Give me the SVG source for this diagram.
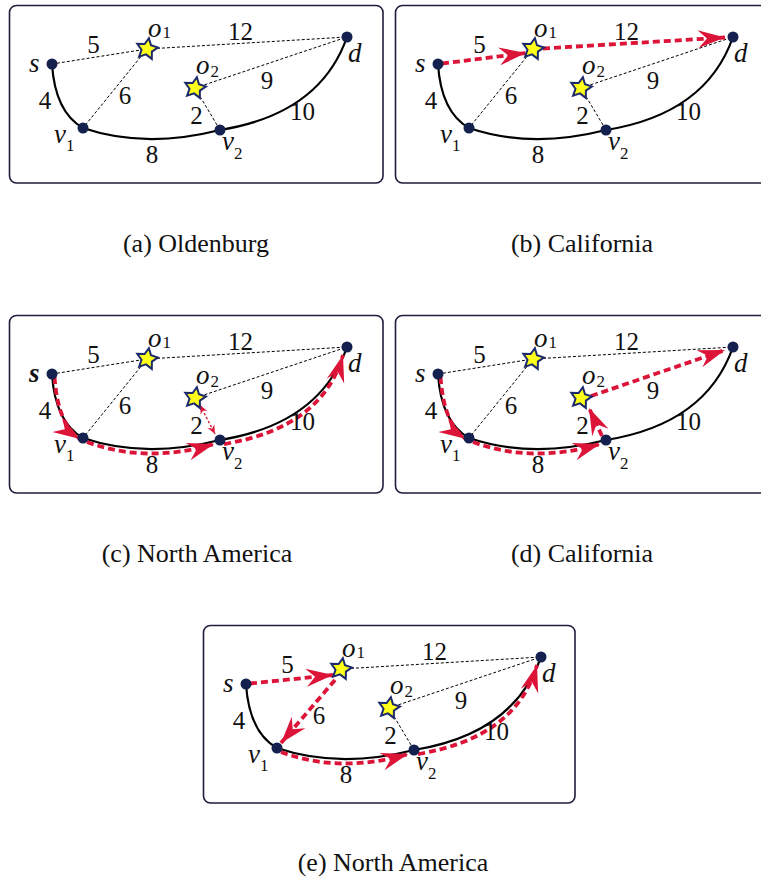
<svg xmlns="http://www.w3.org/2000/svg" width="761" height="879" viewBox="0 0 761 879">
<style>
.frame{fill:#fff;stroke:#231a3d;stroke-width:1.6}
.road{fill:none;stroke:#000;stroke-width:2.2}
.link{fill:none;stroke:#000;stroke-width:1;stroke-dasharray:3,2}
.red{fill:none;stroke:#dc1438;stroke-width:3.8;stroke-dasharray:7,4;marker-end:url(#ah)}
.redthin{fill:none;stroke:#dc1438;stroke-width:1.4;stroke-dasharray:2.5,2;marker-end:url(#ahs);marker-start:url(#ahs)}
.node circle{fill:#14204d}
.star{fill:#ffff1a;stroke:#1c2a6b;stroke-width:2;stroke-linejoin:miter}
text{font-family:'Liberation Serif','Times New Roman',serif;fill:#111}
.m{font-style:italic;font-size:27px}
.sub{font-style:normal;font-size:17px}
.w{font-size:25px;text-anchor:middle}
.cap{font-size:26px;text-anchor:middle}
</style>
<defs>
<polygon id="star" class="star" points="1.9,-10.8 4,-3.8 10.9,-1.5 4.9,2.6 4.8,9.9 -1,5.4 -7.9,7.6 -5.5,0.8 -9.7,-5.2 -2.4,-4.9"/>
<marker id="ah" viewBox="-30 -11 32 22" refX="0" refY="0" markerWidth="32" markerHeight="22" markerUnits="userSpaceOnUse" orient="auto"><path d="M0,0 L-27,-9 L-18,0 L-27,9 Z" fill="#dc1438"/></marker>
<marker id="ahs" viewBox="-10 -5 11 10" refX="0" refY="0" markerWidth="11" markerHeight="10" markerUnits="userSpaceOnUse" orient="auto-start-reverse"><path d="M0,0 L-9,-3.8 L-6,0 L-9,3.8 Z" fill="#dc1438"/></marker>
</defs>

<!-- Panel (a) -->
<g id="panel-a">
<rect class="frame" x="9.5" y="5.5" width="373.5" height="177.5" rx="7"/>
<g id="a-connectors">
<path class="road" d="M52,64 Q55,112 83,128"/>
<path class="road" d="M83,128 Q145,149 220,130"/>
<path class="road" d="M220,130 Q320,114 347,37"/>
<line class="link" x1="52" y1="64" x2="147" y2="49"/>
<line class="link" x1="147" y1="49" x2="347" y2="37"/>
<line class="link" x1="147" y1="49" x2="83" y2="128"/>
<line class="link" x1="195" y1="88" x2="347" y2="37"/>
<line class="link" x1="195" y1="88" x2="220" y2="130"/>
<text class="w" x="93.5" y="53">5</text>
<text class="w" x="240.5" y="40">12</text>
<text class="w" x="125" y="104">6</text>
<text class="w" x="45" y="109">4</text>
<text class="w" x="267" y="89">9</text>
<text class="w" x="196.5" y="124">2</text>
<text class="w" x="302.5" y="120">10</text>
<text class="w" x="152" y="163">8</text>
</g>
<g id="a-s" class="node"><circle cx="52" cy="64" r="5.5"/><text class="m" x="29" y="72">s</text></g>
<g id="a-o1"><use href="#star" x="147" y="49"/><text class="m" x="148" y="37">o<tspan class="sub" dx="1" dy="1">1</tspan></text></g>
<g id="a-o2"><use href="#star" x="195" y="88"/><text class="m" x="196" y="74">o<tspan class="sub" dx="1" dy="3">2</tspan></text></g>
<g id="a-d" class="node"><circle cx="347" cy="37" r="5.5"/><text class="m" x="348" y="62">d</text></g>
<g id="a-v1" class="node"><circle cx="83" cy="128" r="5.5"/><text class="m" x="54" y="143">v<tspan class="sub" dx="0" dy="8">1</tspan></text></g>
<g id="a-v2" class="node"><circle cx="220" cy="130" r="5.5"/><text class="m" x="222" y="150">v<tspan class="sub" dx="0" dy="9">2</tspan></text></g>
</g>

<!-- Panel (b) -->
<g id="panel-b" transform="translate(386,0)">
<rect class="frame" x="9.5" y="5.5" width="373.5" height="177.5" rx="7"/>
<g id="b-connectors">
<path class="road" d="M52,64 Q55,112 83,128"/>
<path class="road" d="M83,128 Q145,149 220,130"/>
<path class="road" d="M220,130 Q320,114 347,37"/>
<line class="link" x1="147" y1="49" x2="83" y2="128"/>
<line class="link" x1="195" y1="88" x2="347" y2="37"/>
<line class="link" x1="195" y1="88" x2="220" y2="130"/>
<path class="red" d="M56,63.5 L140,53"/>
<path class="red" d="M157,48.5 L339,37.5"/>
<text class="w" x="93.5" y="53">5</text>
<text class="w" x="240.5" y="40">12</text>
<text class="w" x="125" y="104">6</text>
<text class="w" x="45" y="109">4</text>
<text class="w" x="267" y="89">9</text>
<text class="w" x="196.5" y="124">2</text>
<text class="w" x="302.5" y="120">10</text>
<text class="w" x="152" y="163">8</text>
</g>
<g id="b-s" class="node"><circle cx="52" cy="64" r="5.5"/><text class="m" x="29" y="72">s</text></g>
<g id="b-o1"><use href="#star" x="147" y="49"/><text class="m" x="148" y="37">o<tspan class="sub" dx="1" dy="1">1</tspan></text></g>
<g id="b-o2"><use href="#star" x="195" y="88"/><text class="m" x="196" y="74">o<tspan class="sub" dx="1" dy="3">2</tspan></text></g>
<g id="b-d" class="node"><circle cx="347" cy="37" r="5.5"/><text class="m" x="348" y="62">d</text></g>
<g id="b-v1" class="node"><circle cx="83" cy="128" r="5.5"/><text class="m" x="54" y="143">v<tspan class="sub" dx="0" dy="8">1</tspan></text></g>
<g id="b-v2" class="node"><circle cx="220" cy="130" r="5.5"/><text class="m" x="222" y="150">v<tspan class="sub" dx="0" dy="9">2</tspan></text></g>
</g>

<!-- Panel (c) -->
<g id="panel-c" transform="translate(0,310)">
<rect class="frame" x="9.5" y="5.5" width="373.5" height="177.5" rx="7"/>
<g id="c-connectors">
<path class="road" d="M52,64 Q55,112 83,128"/>
<path class="road" d="M83,128 Q145,149 220,130"/>
<path class="road" d="M220,130 Q320,114 347,37"/>
<line class="link" x1="52" y1="64" x2="147" y2="49"/>
<line class="link" x1="147" y1="49" x2="347" y2="37"/>
<line class="link" x1="147" y1="49" x2="83" y2="128"/>
<line class="link" x1="195" y1="88" x2="347" y2="37"/>
<path class="red" d="M54.5,67 Q58,115 80,129"/>
<path class="red" d="M87,132 Q146,154 214,134"/>
<path class="red" d="M224,134 Q322,118 343,45"/>
<path class="redthin" d="M200,95 L215,124"/>
<text class="w" x="93.5" y="53">5</text>
<text class="w" x="240.5" y="40">12</text>
<text class="w" x="125" y="104">6</text>
<text class="w" x="45" y="109">4</text>
<text class="w" x="267" y="89">9</text>
<text class="w" x="196.5" y="124">2</text>
<text class="w" x="302.5" y="120">10</text>
<text class="w" x="152" y="163">8</text>
</g>
<g id="c-s" class="node"><circle cx="52" cy="64" r="5.5"/><text class="m" x="29" y="72" font-weight="bold">s</text></g>
<g id="c-o1"><use href="#star" x="147" y="49"/><text class="m" x="148" y="37">o<tspan class="sub" dx="1" dy="1">1</tspan></text></g>
<g id="c-o2"><use href="#star" x="195" y="88"/><text class="m" x="196" y="74">o<tspan class="sub" dx="1" dy="3">2</tspan></text></g>
<g id="c-d" class="node"><circle cx="347" cy="37" r="5.5"/><text class="m" x="348" y="62">d</text></g>
<g id="c-v1" class="node"><circle cx="83" cy="128" r="5.5"/><text class="m" x="54" y="143">v<tspan class="sub" dx="0" dy="8">1</tspan></text></g>
<g id="c-v2" class="node"><circle cx="220" cy="130" r="5.5"/><text class="m" x="222" y="150">v<tspan class="sub" dx="0" dy="9">2</tspan></text></g>
</g>

<!-- Panel (d) -->
<g id="panel-d" transform="translate(386,310)">
<rect class="frame" x="9.5" y="5.5" width="373.5" height="177.5" rx="7"/>
<g id="d-connectors">
<path class="road" d="M52,64 Q55,112 83,128"/>
<path class="road" d="M83,128 Q145,149 220,130"/>
<path class="road" d="M220,130 Q320,114 347,37"/>
<line class="link" x1="52" y1="64" x2="147" y2="49"/>
<line class="link" x1="147" y1="49" x2="347" y2="37"/>
<line class="link" x1="147" y1="49" x2="83" y2="128"/>
<path class="red" d="M54.5,67 Q58,115 80,129"/>
<path class="red" d="M87,132 Q146,154 214,134"/>
<path class="red" d="M216,126 L203,98"/>
<path class="red" d="M205,86 L339,40"/>
<text class="w" x="93.5" y="53">5</text>
<text class="w" x="240.5" y="40">12</text>
<text class="w" x="125" y="104">6</text>
<text class="w" x="45" y="109">4</text>
<text class="w" x="267" y="89">9</text>
<text class="w" x="196.5" y="124">2</text>
<text class="w" x="302.5" y="120">10</text>
<text class="w" x="152" y="163">8</text>
</g>
<g id="d-s" class="node"><circle cx="52" cy="64" r="5.5"/><text class="m" x="29" y="72">s</text></g>
<g id="d-o1"><use href="#star" x="147" y="49"/><text class="m" x="148" y="37">o<tspan class="sub" dx="1" dy="1">1</tspan></text></g>
<g id="d-o2"><use href="#star" x="195" y="88"/><text class="m" x="196" y="74">o<tspan class="sub" dx="1" dy="3">2</tspan></text></g>
<g id="d-d" class="node"><circle cx="347" cy="37" r="5.5"/><text class="m" x="348" y="62">d</text></g>
<g id="d-v1" class="node"><circle cx="83" cy="128" r="5.5"/><text class="m" x="54" y="143">v<tspan class="sub" dx="0" dy="8">1</tspan></text></g>
<g id="d-v2" class="node"><circle cx="220" cy="130" r="5.5"/><text class="m" x="222" y="150">v<tspan class="sub" dx="0" dy="9">2</tspan></text></g>
</g>

<!-- Panel (e) -->
<g id="panel-e" transform="translate(194,620)">
<rect class="frame" x="9.5" y="5.5" width="371.5" height="177.5" rx="7"/>
<g id="e-connectors">
<path class="road" d="M52,64 Q55,112 83,128"/>
<path class="road" d="M83,128 Q145,149 220,130"/>
<path class="road" d="M220,130 Q320,114 347,37"/>
<line class="link" x1="147" y1="49" x2="347" y2="37"/>
<line class="link" x1="195" y1="88" x2="347" y2="37"/>
<line class="link" x1="195" y1="88" x2="220" y2="130"/>
<path class="red" d="M56,63.5 L139,55"/>
<path class="red" d="M141,60 L87,123"/>
<path class="red" d="M87,132 Q146,154 214,134"/>
<path class="red" d="M224,134 Q322,118 343,45"/>
<text class="w" x="93.5" y="53">5</text>
<text class="w" x="240.5" y="40">12</text>
<text class="w" x="125" y="104">6</text>
<text class="w" x="45" y="109">4</text>
<text class="w" x="267" y="89">9</text>
<text class="w" x="196.5" y="124">2</text>
<text class="w" x="302.5" y="120">10</text>
<text class="w" x="152" y="163">8</text>
</g>
<g id="e-s" class="node"><circle cx="52" cy="64" r="5.5"/><text class="m" x="29" y="72">s</text></g>
<g id="e-o1"><use href="#star" x="147" y="49"/><text class="m" x="148" y="37">o<tspan class="sub" dx="1" dy="1">1</tspan></text></g>
<g id="e-o2"><use href="#star" x="195" y="88"/><text class="m" x="196" y="74">o<tspan class="sub" dx="1" dy="3">2</tspan></text></g>
<g id="e-d" class="node"><circle cx="347" cy="37" r="5.5"/><text class="m" x="348" y="62">d</text></g>
<g id="e-v1" class="node"><circle cx="83" cy="128" r="5.5"/><text class="m" x="54" y="143">v<tspan class="sub" dx="0" dy="8">1</tspan></text></g>
<g id="e-v2" class="node"><circle cx="220" cy="130" r="5.5"/><text class="m" x="222" y="150">v<tspan class="sub" dx="0" dy="9">2</tspan></text></g>
</g>

<g id="captions">
<text class="cap" x="196" y="252">(a) Oldenburg</text>
<text class="cap" x="582" y="252">(b) California</text>
<text class="cap" x="197" y="562">(c) North America</text>
<text class="cap" x="582" y="562">(d) California</text>
<text class="cap" x="393" y="871">(e) North America</text>
</g>
</svg>
